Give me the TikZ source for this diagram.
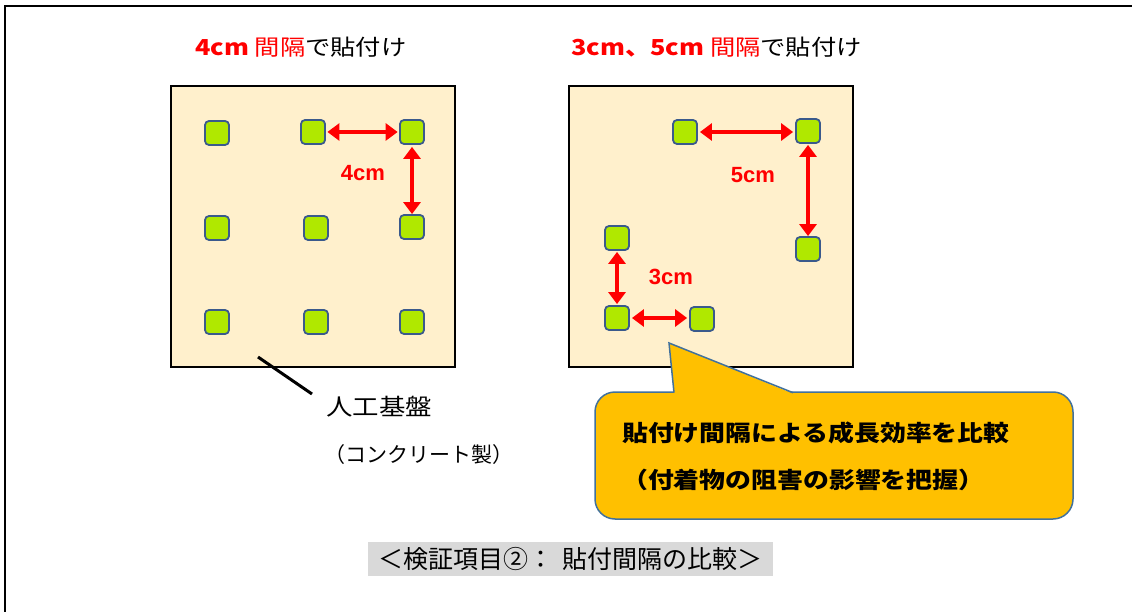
\documentclass[tikz,border=0pt]{standalone}
\usepackage{fontspec}
\setmainfont{Liberation Sans}
\newfontfamily\jp{Noto Sans CJK JP}
\newfontfamily\jpw{Noto Sans CJK JP}[FakeStretch=1.15]
\usetikzlibrary{arrows.meta}
\definecolor{cream}{RGB}{255,240,204}
\definecolor{lime}{RGB}{176,232,0}
\definecolor{sqedge}{RGB}{58,90,140}
\definecolor{callfill}{RGB}{255,192,0}
\definecolor{calledge}{RGB}{65,113,156}
\definecolor{capgray}{RGB}{217,217,217}
\begin{document}
\begin{tikzpicture}[x=1pt,y=-1pt,
  panel/.style={draw=black,line width=2.5pt,fill=cream,minimum width=284pt,minimum height=281pt,inner sep=0pt},
  sq/.style={draw=sqedge,fill=lime,line width=1.8pt,rounded corners=4pt,minimum size=24pt,inner sep=0pt},
  dim/.style={red,line width=4.5pt,{Triangle[length=12pt,width=17pt]}-{Triangle[length=12pt,width=17pt]}},
  dimlbl/.style={text=red,font=\bfseries\fontsize{22}{22}\selectfont,inner sep=0pt},
  title/.style={anchor=west,inner sep=0pt,font=\jpw\fontsize{22}{22}\selectfont},
  calltext/.style={anchor=west,inner sep=0pt,font=\jpw\bfseries\fontsize{22.5}{22.5}\selectfont}]
\useasboundingbox (0,0) rectangle (1132,612);
\fill[white] (0,0) rectangle (1132,612);
% frame
\draw[line width=2pt] (5,612) -- (5,6) -- (1132,6);
% titles
\node[title] (t1) at (195,47) {\textcolor{red}{\textbf{4cm} 間隔}で貼付け};
\node[title] (t2) at (571,47) {\textcolor{red}{\textbf{3cm、5cm} 間隔}で貼付け};
% panels
\node[panel] (lp) at (313,226.5) {};
\node[panel] (rp) at (711,226.5) {};
% left squares
\node[sq] (a11) at (217,133) {};
\node[sq] (a12) at (313,132) {};
\node[sq] (a13) at (412,132) {};
\node[sq] (a21) at (217,228) {};
\node[sq] (a22) at (316,228) {};
\node[sq] (a23) at (412,227) {};
\node[sq] (a31) at (217,322) {};
\node[sq] (a32) at (316,322) {};
\node[sq] (a33) at (412,322) {};
\draw[dim,shorten <=1.5pt,shorten >=1.5pt] (a12.east) -- (a13.west);
\draw[dim,shorten <=2pt,shorten >=0pt] (a13.south) -- (a23.north);
\node[dimlbl] (l4) at (363,173) {4cm};
% right squares
\node[sq] (b1) at (685,132) {};
\node[sq] (b2) at (808,131) {};
\node[sq] (b3) at (808,249) {};
\node[sq] (b4) at (617,238) {};
\node[sq] (b5) at (617,318) {};
\node[sq] (b6) at (702,319) {};
\draw[dim,shorten <=2pt,shorten >=2pt] (b1.east) -- (b2.west|-b1.east);
\draw[dim,shorten <=1pt,shorten >=0pt] (b2.south) -- (b3.north);
\draw[dim,shorten <=1pt,shorten >=1pt] (b4.south) -- (b5.north);
\draw[dim,shorten <=2pt,shorten >=2pt] (b5.east) -- (b6.west|-b5.east);
\node[dimlbl] (l5) at (753,175) {5cm};
\node[dimlbl] (l3) at (671,277) {3cm};
% base label
\coordinate (ls) at (258,357);
\coordinate (le) at (312,394);
\draw[line width=3pt] (ls) -- (le);
\node[anchor=west,inner sep=0pt,font=\jpw\fontsize{23}{23}\selectfont] (base) at (326,407) {人工基盤};
\node[anchor=west,inner sep=0pt,font=\jp\fontsize{21}{21}\selectfont] (base2) at (324,455) {（コンクリート製）};
% callout
\node[draw=calledge,fill=callfill,line width=1.5pt,rounded corners=20pt,minimum width=478pt,minimum height=127pt] (call) at (834,455.5) {};
\fill[callfill] (674,393.6) -- (669,343) -- (793,393.6) -- cycle;
\draw[calledge,line width=1.5pt,line join=miter] (674,392.7) -- (669,343) -- (793,392.7);
\node[calltext] (c1) at (622,433) {貼付け間隔による成長効率を比較};
\node[calltext] (c2) at (622,480) {（付着物の阻害の影響を把握）};
% caption
\node[fill=capgray,minimum width=405pt,minimum height=34pt,inner sep=0pt,font=\jp\fontsize{25}{25}\selectfont] (cap) at (570.5,559) {＜検証項目②：\hspace{0.4em}貼付間隔の比較＞};
\end{tikzpicture}
\end{document}
